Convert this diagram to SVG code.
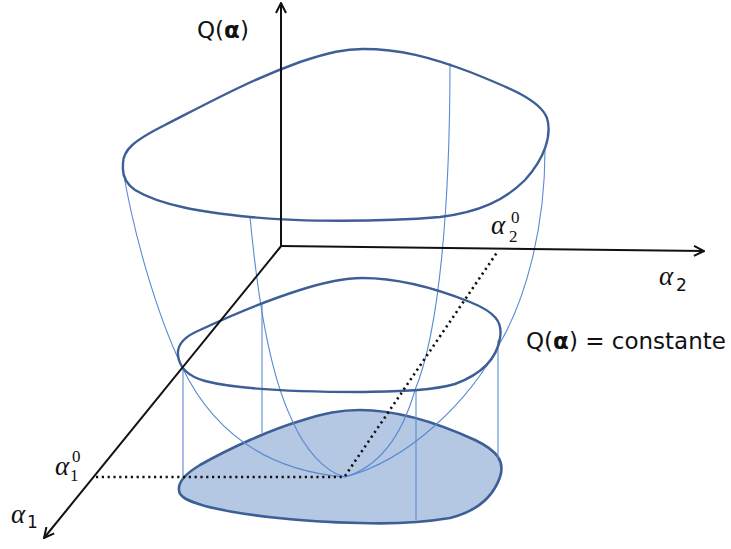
<svg xmlns="http://www.w3.org/2000/svg" width="731" height="549" viewBox="0 0 731 549">
  <style>
    .contour { fill: none; stroke: #3d5f96; stroke-width: 2.4; }
    .filled { fill: #b4c8e4; stroke: #3d5f96; stroke-width: 2.6; }
    .thin { fill: none; stroke: #5a8ad2; stroke-width: 1.1; }
    .axis { fill: none; stroke: #111; stroke-width: 2; }
    .dot { fill: none; stroke: #111; stroke-width: 2.6; stroke-dasharray: 2.2 3.6; }
    .sans { font-family: "DejaVu Sans", "Liberation Sans", sans-serif; fill: #111; }
    .serif { font-family: "Liberation Serif", "DejaVu Serif", serif; fill: #111; }
  </style>
  <defs>
    <marker id="arr" viewBox="0 0 12 12" refX="11" refY="6" markerWidth="12" markerHeight="12" markerUnits="userSpaceOnUse" orient="auto">
      <path d="M1,1 L11,6 L1,11" fill="none" stroke="#111" stroke-width="2"/>
    </marker>
  </defs>

  <g id="base-contour">
    <path class="filled" d="M179,490 C178,482 185,474 200,465 C230,448 270,430 300,421 C325,413 340,410 360,410 C400,410 440,424 475,440 C498,451 505,462 500,477 C493,497 478,511 450,518 C420,523 390,524 360,523 C300,522 240,515 205,506 C188,501 179,497 179,490 Z"/>
  </g>

  <g id="surface-lines">
    <path class="thin" d="M123,170 C133,230 155,310 182,367 C210,425 260,470 345,477"/>
    <path class="thin" d="M250,217 C257,290 268,370 292,420 C305,450 325,472 345,477"/>
    <path class="thin" d="M450,63 C450,200 440,330 415,390 C405,425 385,465 345,477"/>
    <path class="thin" d="M545,150 C545,230 525,300 500,343 C470,400 410,460 345,477"/>
    <path class="thin" d="M183,367 L183,478"/>
    <path class="thin" d="M262,303 L262,433"/>
    <path class="thin" d="M416,390 L416,520"/>
    <path class="thin" d="M498,340 L498,458"/>
  </g>

  <g id="top-contour">
    <path class="contour" d="M123,165 C122,150 135,140 165,125 C210,102 250,80 300,62 C330,52 345,49 363,49 C400,49 430,57 470,72 C510,88 540,100 547,118 C552,135 545,158 525,180 C505,200 480,212 440,217 C380,222 300,222 250,217 C200,212 160,205 135,190 C125,183 122,175 123,165 Z"/>
  </g>

  <g id="middle-contour">
    <path class="contour" d="M178,355 C177,345 183,337 200,330 C230,316 262,302 300,290 C325,282 345,278 362,278 C400,278 440,290 470,302 C495,312 503,322 500,338 C497,358 482,374 455,384 C430,391 400,391 360,392 C300,392 240,390 205,381 C187,376 179,366 178,355 Z"/>
  </g>

  <g id="connectors">
    <line class="axis" x1="281" y1="246" x2="281" y2="3" marker-end="url(#arr)"/>
    <line class="axis" x1="280" y1="246" x2="704" y2="251" marker-end="url(#arr)"/>
    <line class="axis" x1="282" y1="245" x2="44" y2="538" marker-end="url(#arr)"/>
    <line class="dot" x1="96" y1="477" x2="343" y2="477"/>
    <line class="dot" x1="345" y1="476" x2="498" y2="251"/>
  </g>

  <g id="labels">
    <text class="sans" x="197" y="38" font-size="23">Q(<tspan font-weight="bold">α</tspan>)</text>
    <text class="sans" x="526" y="349" font-size="23">Q(<tspan font-weight="bold">α</tspan>) = constante</text>
    <text class="serif" x="491" y="234" font-size="27" font-style="italic">α</text>
    <text class="serif" x="509" y="242" font-size="17">2</text>
    <text class="serif" x="511" y="223" font-size="17">0</text>
    <text class="serif" x="659" y="285" font-size="27" font-style="italic">α</text>
    <text class="sans" x="676" y="291" font-size="17">2</text>
    <text class="serif" x="55" y="475" font-size="27" font-style="italic">α</text>
    <text class="serif" x="70" y="481" font-size="17">1</text>
    <text class="serif" x="72" y="462" font-size="17">0</text>
    <text class="serif" x="11" y="523" font-size="27" font-style="italic">α</text>
    <text class="sans" x="27" y="528" font-size="17">1</text>
  </g>
</svg>
